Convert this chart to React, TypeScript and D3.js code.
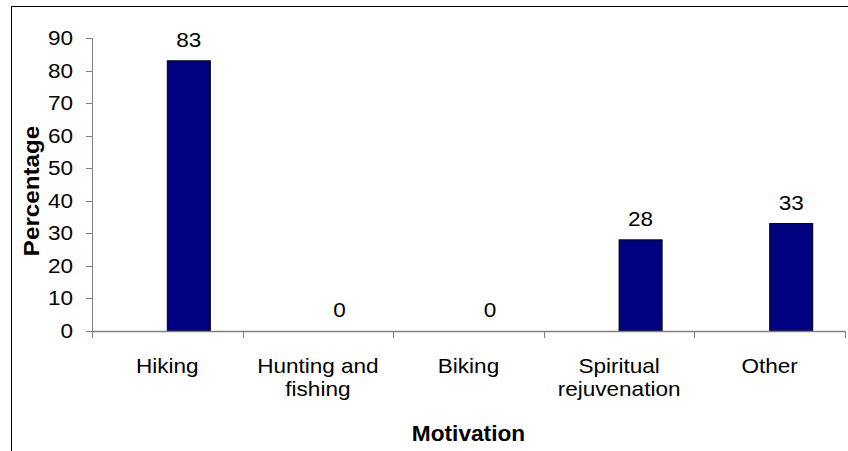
import React from "react";
import * as d3 from "d3";

const categories: string[][] = [
  ["Hiking"],
  ["Hunting and", "fishing"],
  ["Biking"],
  ["Spiritual", "rejuvenation"],
  ["Other"],
];
const values: number[] = [83, 0, 0, 28, 33];
const yTicks: number[] = [0, 10, 20, 30, 40, 50, 60, 70, 80, 90];
const xTitle = "Motivation";
const yTitle = "Percentage";

const W = 848;
const H = 451;
const FONT = "'Liberation Sans', Arial, sans-serif";
const SX = 1.1;

export default function App() {
  const keys = categories.map((_, i) => String(i));
  const x = d3.scaleBand<string>().domain(keys).range([92, 845]).padding(0);
  const y = d3.scaleLinear().domain([0, 90]).range([331, 38]);
  const bw = x.bandwidth();
  const barW = bw / 3.5;
  const axisColor = "#808080";

  const T = (
    key: string,
    tx: number,
    ty: number,
    text: string,
    opts: { anchor?: string; size?: number; bold?: boolean; rotate?: number; sx?: number } = {}
  ) => (
    <text
      key={key}
      transform={`translate(${tx},${ty})${opts.rotate ? ` rotate(${opts.rotate})` : ""} scale(${opts.sx ?? SX},1)`}
      textAnchor={opts.anchor ?? "middle"}
      fontSize={opts.size ?? 20.5}
      fontWeight={opts.bold ? "bold" : "normal"}
      fontFamily={FONT}
      fill="#000"
    >
      {text}
    </text>
  );

  return (
    <svg
      width={W}
      height={H}
      style={{ position: "absolute", left: 0, top: 0, background: "#fff" }}
    >
      <rect x={0} y={0} width={W} height={H} fill="#fff" />
      <rect x={11.5} y={6.5} width={W} height={H} fill="none" stroke="#000" strokeWidth={1} />

      {/* y axis */}
      <line x1={92.5} x2={92.5} y1={y(90)} y2={y(0)} stroke={axisColor} strokeWidth={1} />
      {yTicks.map((t) => (
        <g key={"yt" + t}>
          <line x1={86} x2={92.5} y1={Math.round(y(t)) + 0.5} y2={Math.round(y(t)) + 0.5} stroke={axisColor} />
          {T("ytl" + t, 73, y(t) + 7, String(t), { anchor: "end" })}
        </g>
      ))}

      {/* bars */}
      {values.map((v, i) => {
        const bx = (x(String(i)) as number) + bw / 2;
        return (
          <g key={"b" + i}>
            {v > 0 && (
              <rect
                x={bx}
                y={y(v)}
                width={barW}
                height={y(0) - y(v)}
                fill="#000080"
                stroke="#000"
                strokeWidth={1}
              />
            )}
            {T("v" + i, bx + barW / 2, y(v) - 14, String(v))}
          </g>
        );
      })}

      {/* x axis */}
      <line x1={92} x2={845} y1={331.5} y2={331.5} stroke={axisColor} strokeWidth={1.5} />
      {keys.concat(["end"]).map((k, i) => {
        const px = Math.round(i < keys.length ? (x(k) as number) : 845) + 0.5;
        return <line key={"xt" + i} x1={px} x2={px} y1={331} y2={338} stroke={axisColor} />;
      })}
      {categories.map((lines, i) => {
        const cx = (x(String(i)) as number) + bw / 2;
        return lines.map((ln, j) => T(`xl${i}-${j}`, cx, 373 + j * 22.5, ln));
      })}

      {T("xtitle", 468.5, 440.5, xTitle, { bold: true, size: 22, sx: 1.03 })}
      {T("ytitle", 38.5, 191, yTitle, { bold: true, size: 22, rotate: -90, sx: 1.1 })}
    </svg>
  );
}
